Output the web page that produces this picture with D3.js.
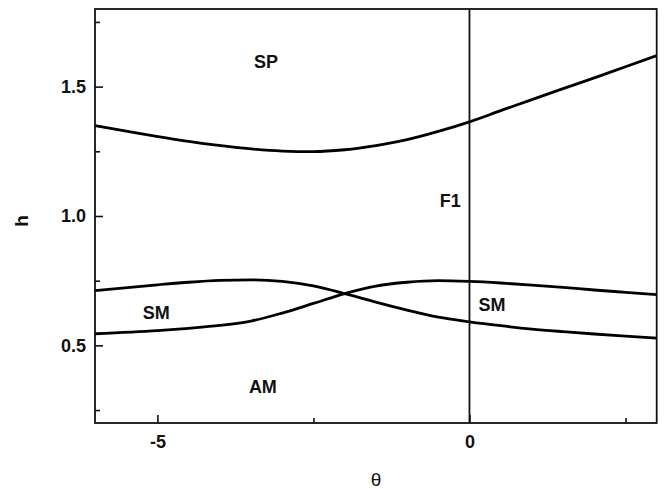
<!DOCTYPE html>
<html>
<head>
<meta charset="utf-8">
<script src="https://cdn.jsdelivr.net/npm/d3@7"></script>
<style>
  html, body { margin: 0; padding: 0; background: #fff; }
  svg { display: block; }
  text { font-family: Arial, "Liberation Sans", Helvetica, sans-serif; }
</style>
</head>
<body>
<svg id="chart" width="667" height="489"></svg>
<script>
// ---- data ----
const thetaUpper = [-6, -5.25, -4.5, -3.75, -3, -2.5, -2, -1.5, -1, -0.5, 0, 0.5, 1, 1.5, 2, 2.5, 3];
const hUpper     = [1.349, 1.317, 1.288, 1.265, 1.251, 1.249, 1.256, 1.272, 1.295, 1.327, 1.364, 1.407, 1.450, 1.492, 1.534, 1.577, 1.62];

const thetaLower = [-6, -5, -4.5, -4, -3.5, -3, -2.5, -2, -1.5, -1, -0.5, 0, 0.5, 1, 1.5, 2, 2.5, 3];
const hLowerA    = [0.712, 0.734, 0.744, 0.751, 0.753, 0.747, 0.730, 0.700, 0.667, 0.636, 0.609, 0.591, 0.576, 0.563, 0.553, 0.544, 0.536, 0.528];
const hLowerB    = [0.545, 0.557, 0.566, 0.577, 0.594, 0.625, 0.662, 0.700, 0.729, 0.744, 0.750, 0.747, 0.741, 0.733, 0.724, 0.714, 0.705, 0.696];

const boundaryTheta = [0];

const xMajorTicks = [-5, 0];
const xMinorTicks = [-2.5, 2.5];
const yMajorTicks = [0.5, 1.0, 1.5];
const yMinorTicks = [0.25, 0.75, 1.25, 1.75];

const regionLabels = ["SP", "F1", "SM", "SM", "AM"];
const regionTheta  = [-3.26, -0.14, -5.02, 0.36, -3.31];
const regionH      = [1.572, 1.035, 0.601, 0.631, 0.317];
const regionAnchor = ["middle", "end", "middle", "middle", "middle"];

const xLabel = "θ";
const yLabel = "h";

// ---- layout ----
const svg = d3.select("#chart");
const L = 95, R = 656.7, T = 9, B = 423;

const x = d3.scaleLinear().domain([-6, 3]).range([L, R]);
const y = d3.scaleLinear().domain([0.2, 1.8]).range([B, T]);

const fs = 18;

// curves
const line = d3.line().x(d => x(d[0])).y(d => y(d[1])).curve(d3.curveMonotoneX);
const curves = [
  d3.zip(thetaUpper, hUpper),
  d3.zip(thetaLower, hLowerA),
  d3.zip(thetaLower, hLowerB)
];
svg.append("g").selectAll("path").data(curves).join("path")
  .attr("d", line)
  .attr("fill", "none")
  .attr("stroke", "#000")
  .attr("stroke-width", 2.8)
  .attr("stroke-linejoin", "round");

// vertical boundary line
svg.append("g").selectAll("line").data(boundaryTheta).join("line")
  .attr("x1", d => x(d)).attr("x2", d => x(d))
  .attr("y1", T).attr("y2", B)
  .attr("stroke", "#111").attr("stroke-width", 1.8);

// frame
svg.append("rect")
  .attr("x", L).attr("y", T).attr("width", R - L).attr("height", B - T)
  .attr("fill", "none").attr("stroke", "#111").attr("stroke-width", 1.8);

// axes
function styleAxis(g) {
  g.select(".domain").remove();
  g.selectAll(".tick line").attr("stroke", "#111").attr("stroke-width", 1.6);
  g.selectAll(".tick text").attr("fill", "#111")
    .attr("font-size", fs).attr("font-weight", "bold")
    .attr("font-family", "Arial, 'Liberation Sans', sans-serif");
}

svg.append("g").attr("transform", `translate(${L},0)`)
  .call(d3.axisLeft(y).tickValues(yMajorTicks).tickSize(-8).tickPadding(9).tickFormat(d => d.toFixed(1)))
  .call(styleAxis);
svg.append("g").attr("transform", `translate(${L},0)`)
  .call(d3.axisLeft(y).tickValues(yMinorTicks).tickSize(-5).tickFormat(""))
  .call(styleAxis);

svg.append("g").attr("transform", `translate(0,${B})`)
  .call(d3.axisBottom(x).tickValues(xMajorTicks).tickSize(-8).tickPadding(12).tickFormat(d => String(d)))
  .call(styleAxis);
svg.append("g").attr("transform", `translate(0,${B})`)
  .call(d3.axisBottom(x).tickValues(xMinorTicks).tickSize(-5).tickFormat(""))
  .call(styleAxis);

// axis titles
svg.append("text")
  .attr("transform", "translate(28,221) rotate(-90)")
  .attr("text-anchor", "middle")
  .attr("font-size", 19).attr("font-weight", "bold").attr("fill", "#111")
  .text(yLabel);

svg.append("text")
  .attr("x", 376).attr("y", 486)
  .attr("text-anchor", "middle")
  .attr("font-family", "'Liberation Serif', 'Times New Roman', serif")
  .attr("font-size", 19).attr("fill", "#111")
  .text(xLabel);

// region labels
svg.append("g").selectAll("text").data(regionLabels).join("text")
  .attr("x", (d, i) => x(regionTheta[i]))
  .attr("y", (d, i) => y(regionH[i]))
  .attr("text-anchor", (d, i) => regionAnchor[i])
  .attr("font-size", fs).attr("font-weight", "bold").attr("fill", "#111")
  .text(d => d);
</script>
</body>
</html>
